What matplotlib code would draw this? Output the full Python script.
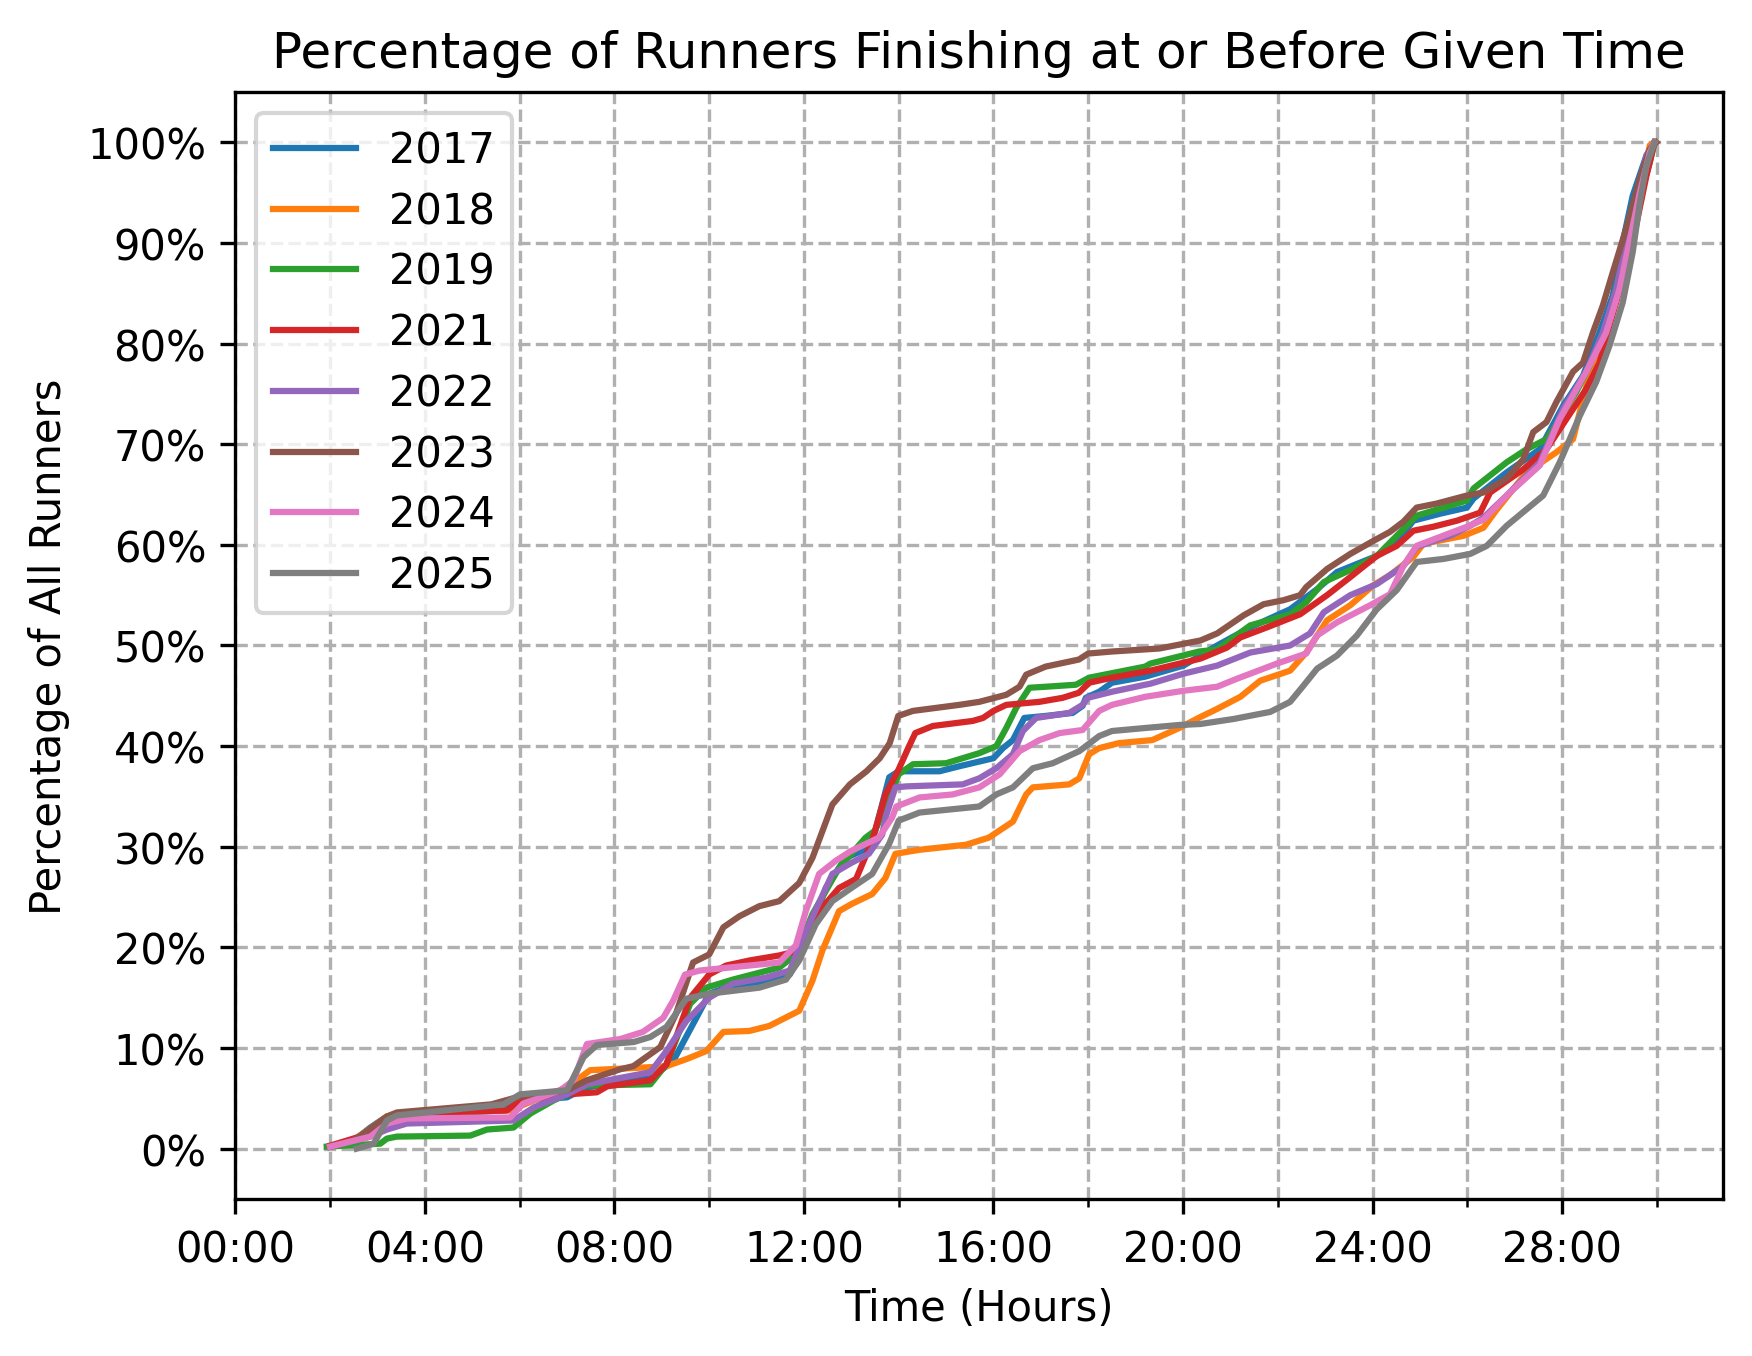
import matplotlib
matplotlib.use("Agg")
import matplotlib.pyplot as plt
from matplotlib.ticker import MultipleLocator, FuncFormatter

years = ["2017", "2018", "2019", "2021", "2022", "2023", "2024", "2025"]

t2017 = [2.0, 2.5, 2.85, 3.2, 5.66, 6.01, 7.0, 7.42, 8.76, 9.24, 9.73, 10.0, 10.36, 11.2, 11.7, 12.04, 12.46, 12.88, 13.23, 13.5, 13.8, 14.0, 14.86, 15.28, 16.0, 16.2, 16.41, 16.65, 17.1, 17.67, 17.88, 17.95, 18.23, 18.5, 19.2, 20.01, 20.72, 21.42, 22.26, 22.83, 23.25, 23.67, 24.09, 24.51, 24.86, 25.43, 25.99, 26.13, 26.83, 27.53, 28.02, 28.44, 28.79, 29.07, 29.28, 29.49, 29.78, 29.95]
p2017 = [0.2, 0.8, 2.1, 3.2, 3.8, 4.8, 5.1, 6.1, 7.0, 8.7, 13.0, 15.4, 16.0, 16.5, 17.3, 20.3, 25.9, 28.9, 29.6, 31.5, 36.9, 37.5, 37.5, 38.0, 38.8, 39.8, 40.6, 42.8, 43.0, 43.3, 44.0, 44.8, 45.4, 46.3, 46.9, 48.0, 50.0, 51.8, 53.6, 55.6, 57.3, 58.1, 58.9, 60.3, 62.4, 63.1, 63.7, 64.6, 67.2, 69.5, 73.8, 76.8, 81.1, 84.8, 90.1, 94.7, 98.7, 100.0]

t2018 = [2.0, 2.5, 2.85, 3.2, 3.41, 5.8, 6.15, 7.0, 7.49, 8.76, 9.1, 9.52, 9.94, 10.3, 10.85, 11.27, 11.9, 12.18, 12.39, 12.74, 13.0, 13.44, 13.72, 13.93, 14.44, 15.42, 15.9, 16.41, 16.69, 16.83, 17.6, 17.81, 18.02, 18.23, 18.65, 19.35, 19.92, 20.37, 20.72, 21.21, 21.63, 22.26, 22.6, 23.04, 23.53, 24.02, 24.37, 24.86, 25.07, 25.92, 26.34, 26.62, 27.25, 27.88, 28.23, 28.51, 28.86, 29.14, 29.42, 29.64, 29.85, 29.95]
p2018 = [0.2, 0.9, 2.0, 3.2, 3.5, 3.8, 4.5, 6.1, 7.8, 8.1, 8.2, 8.9, 9.7, 11.6, 11.7, 12.2, 13.7, 16.7, 19.7, 23.6, 24.3, 25.3, 26.9, 29.3, 29.7, 30.2, 30.9, 32.5, 35.2, 35.9, 36.2, 36.8, 39.2, 39.8, 40.3, 40.6, 41.8, 42.9, 43.7, 44.9, 46.5, 47.5, 49.3, 52.5, 54.0, 56.0, 57.0, 58.8, 60.1, 60.9, 61.7, 63.5, 67.2, 69.2, 70.5, 75.8, 79.8, 84.8, 89.7, 94.7, 99.7, 100.0]

t2019 = [1.93, 3.06, 3.2, 3.41, 4.96, 5.31, 5.87, 6.23, 6.72, 7.42, 7.77, 8.76, 9.1, 9.6, 9.94, 10.5, 11.48, 11.83, 12.18, 12.74, 13.3, 13.5, 13.8, 14.0, 14.3, 15.0, 15.7, 16.06, 16.27, 16.48, 16.76, 17.1, 17.74, 18.02, 19.2, 19.31, 20.34, 20.72, 21.42, 22.26, 22.6, 22.97, 23.53, 24.09, 24.51, 24.93, 25.5, 25.99, 26.13, 26.83, 27.25, 27.67, 27.95, 28.3, 28.58, 28.93, 29.21, 29.49, 29.71, 29.85, 29.95]
p2019 = [0.2, 0.5, 1.0, 1.2, 1.3, 1.9, 2.1, 3.5, 4.8, 6.3, 6.3, 6.4, 8.4, 14.4, 16.0, 16.8, 18.0, 19.3, 23.3, 27.9, 30.9, 31.6, 34.9, 37.2, 38.2, 38.3, 39.3, 40.0, 41.8, 43.8, 45.8, 45.9, 46.1, 46.8, 47.9, 48.2, 49.4, 49.6, 52.0, 53.1, 54.3, 56.3, 57.5, 58.9, 60.9, 62.9, 63.7, 64.4, 65.6, 68.2, 69.5, 70.5, 72.5, 75.2, 77.8, 81.8, 86.8, 92.4, 95.7, 98.0, 100.0]

t2021 = [2.0, 2.49, 2.85, 3.2, 3.62, 5.73, 6.01, 7.0, 7.63, 7.85, 8.76, 9.1, 9.6, 10.0, 10.36, 10.85, 11.48, 11.9, 12.32, 12.74, 13.1, 13.44, 13.72, 14.0, 14.2, 14.35, 14.51, 14.72, 15.56, 15.78, 16.0, 16.27, 16.97, 17.46, 17.8, 18.02, 18.5, 19.2, 19.31, 20.37, 20.93, 21.21, 21.77, 22.47, 23.04, 23.53, 24.09, 24.51, 24.86, 25.28, 25.78, 26.27, 26.48, 27.18, 27.67, 28.09, 28.51, 28.79, 29.0, 29.28, 29.56, 29.78, 29.95]
p2021 = [0.3, 1.0, 1.5, 2.9, 3.5, 3.8, 4.8, 5.4, 5.6, 6.2, 6.8, 8.4, 15.0, 17.3, 18.2, 18.7, 19.2, 19.7, 23.6, 25.9, 26.8, 30.6, 35.2, 37.7, 39.8, 41.3, 41.6, 42.0, 42.5, 42.8, 43.5, 44.1, 44.4, 44.8, 45.3, 46.3, 46.8, 47.4, 47.5, 48.7, 49.8, 50.8, 51.8, 53.1, 55.0, 56.8, 58.9, 59.9, 61.4, 61.8, 62.4, 63.2, 65.2, 67.5, 69.5, 72.5, 75.5, 78.1, 81.8, 86.4, 91.7, 96.7, 100.0]

t2022 = [2.0, 2.85, 3.2, 3.62, 5.87, 6.3, 7.0, 7.42, 8.76, 9.1, 9.52, 10.0, 10.5, 11.2, 11.7, 12.04, 12.6, 13.0, 13.37, 13.65, 13.74, 13.93, 14.16, 15.35, 15.7, 16.06, 16.41, 16.62, 16.9, 17.6, 17.88, 17.99, 18.5, 19.2, 19.31, 20.01, 20.72, 21.42, 22.26, 22.68, 22.97, 23.53, 24.09, 24.65, 24.93, 25.42, 25.64, 26.06, 26.34, 26.83, 27.53, 28.02, 28.51, 28.86, 29.14, 29.35, 29.56, 29.78, 29.95]
p2022 = [0.2, 1.2, 1.9, 2.5, 2.8, 4.1, 5.4, 6.4, 7.6, 9.7, 12.7, 15.0, 16.4, 17.0, 17.7, 21.6, 27.3, 28.4, 29.3, 31.2, 33.2, 35.9, 36.0, 36.2, 36.8, 37.8, 39.2, 41.5, 42.8, 43.3, 44.1, 44.8, 45.4, 46.1, 46.2, 47.2, 48.0, 49.3, 50.0, 51.2, 53.3, 55.0, 56.1, 57.9, 59.8, 60.6, 60.9, 61.9, 62.7, 64.9, 68.2, 73.5, 77.2, 81.1, 85.4, 90.1, 94.7, 98.7, 100.0]

t2023 = [2.0, 2.5, 2.85, 3.2, 3.41, 5.4, 6.01, 7.0, 7.42, 8.13, 8.4, 8.7, 8.97, 9.3, 9.66, 10.0, 10.3, 10.64, 11.06, 11.48, 11.9, 12.18, 12.6, 12.97, 13.32, 13.6, 13.81, 13.99, 14.3, 15.28, 15.7, 16.27, 16.55, 16.69, 17.1, 17.8, 18.0, 18.5, 19.5, 20.37, 20.72, 21.28, 21.7, 22.12, 22.47, 22.6, 23.04, 23.53, 24.02, 24.37, 24.65, 24.93, 25.35, 25.99, 26.34, 26.83, 27.18, 27.39, 27.67, 27.88, 28.23, 28.44, 28.65, 28.86, 29.07, 29.35, 29.64, 29.85, 29.99]
p2023 = [0.2, 0.8, 2.0, 3.2, 3.6, 4.4, 5.2, 5.8, 6.8, 7.9, 8.2, 9.2, 10.1, 13.4, 18.5, 19.3, 22.0, 23.1, 24.1, 24.6, 26.4, 28.9, 34.2, 36.2, 37.5, 38.8, 40.3, 43.0, 43.5, 44.1, 44.4, 45.1, 45.9, 47.1, 47.9, 48.6, 49.2, 49.4, 49.7, 50.5, 51.2, 53.0, 54.1, 54.5, 55.0, 55.8, 57.6, 59.1, 60.4, 61.3, 62.3, 63.7, 64.1, 64.9, 65.2, 66.6, 68.5, 71.2, 72.2, 74.2, 77.2, 78.1, 81.1, 83.8, 87.1, 91.4, 96.4, 99.3, 100.0]

t2024 = [2.0, 2.85, 3.2, 3.62, 5.8, 6.08, 6.37, 6.86, 7.14, 7.42, 8.13, 8.6, 9.03, 9.24, 9.49, 9.8, 10.85, 11.48, 11.83, 12.04, 12.32, 12.67, 13.0, 13.58, 13.86, 13.95, 14.44, 15.14, 15.7, 16.13, 16.55, 16.97, 17.4, 17.88, 18.23, 18.5, 19.2, 20.01, 20.72, 21.14, 21.98, 22.6, 22.83, 23.25, 23.95, 24.37, 24.65, 24.93, 25.43, 25.99, 26.34, 26.83, 27.53, 27.95, 28.51, 28.93, 29.21, 29.42, 29.64, 29.85, 29.95]
p2024 = [0.2, 1.2, 2.5, 3.0, 3.1, 4.5, 4.95, 5.8, 6.8, 10.4, 10.9, 11.6, 13.0, 14.7, 17.3, 17.7, 18.2, 18.5, 20.2, 23.6, 27.3, 28.6, 29.6, 30.9, 32.9, 34.0, 34.9, 35.2, 35.9, 37.2, 39.5, 40.6, 41.3, 41.6, 43.5, 44.1, 44.9, 45.5, 45.9, 46.7, 48.2, 49.2, 51.0, 52.3, 54.0, 55.1, 57.9, 59.9, 60.8, 61.8, 62.5, 64.9, 67.9, 72.5, 77.2, 81.1, 85.4, 90.1, 95.0, 99.0, 100.0]

t2025 = [2.56, 2.92, 3.2, 3.41, 5.66, 6.01, 7.0, 7.35, 7.63, 8.41, 8.76, 9.1, 9.52, 10.0, 11.06, 11.62, 11.9, 12.25, 12.6, 13.0, 13.44, 13.8, 14.0, 14.44, 15.7, 16.06, 16.41, 16.83, 17.25, 17.81, 18.23, 18.5, 19.2, 19.92, 20.37, 21.07, 21.84, 22.26, 22.54, 22.83, 23.25, 23.67, 24.09, 24.51, 24.93, 25.5, 26.06, 26.41, 26.83, 27.6, 27.95, 28.37, 28.72, 29.0, 29.28, 29.49, 29.64, 29.78, 29.95]
p2025 = [0.0, 0.5, 2.8, 3.3, 4.4, 5.4, 5.8, 9.1, 10.3, 10.6, 11.1, 12.1, 14.9, 15.4, 16.0, 16.8, 18.7, 22.3, 24.6, 25.9, 27.3, 30.3, 32.6, 33.4, 34.0, 35.2, 35.9, 37.8, 38.3, 39.5, 41.0, 41.5, 41.8, 42.1, 42.2, 42.7, 43.4, 44.4, 46.0, 47.7, 49.0, 51.0, 53.6, 55.5, 58.3, 58.6, 59.1, 59.9, 61.9, 64.9, 68.2, 72.8, 76.2, 79.8, 84.1, 89.1, 94.0, 97.7, 100.0]

series_t = [t2017, t2018, t2019, t2021, t2022, t2023, t2024, t2025]
series_p = [p2017, p2018, p2019, p2021, p2022, p2023, p2024, p2025]

fig = plt.figure(figsize=(5.84, 4.5233), dpi=300)
ax = fig.add_axes([0.1343, 0.1157, 0.9834 - 0.1343, 0.9315 - 0.1157])

for yr, t, p in zip(years, series_t, series_p):
    ax.plot(t, p, label=yr)

ax.set_xlim(left=0)
ax.set_ylim(-5, 105)
ax.xaxis.set_major_locator(MultipleLocator(4))
ax.xaxis.set_minor_locator(MultipleLocator(2))
ax.xaxis.set_major_formatter(FuncFormatter(lambda v, pos: f"{int(round(v)):02d}:00"))
ax.yaxis.set_major_locator(MultipleLocator(10))
ax.yaxis.set_major_formatter(FuncFormatter(lambda v, pos: f"{int(round(v))}%"))

ax.grid(True, which="major", linestyle="--")
ax.grid(True, which="minor", axis="x", linestyle="--")

ax.set_title("Percentage of Runners Finishing at or Before Given Time")
ax.set_xlabel("Time (Hours)")
ax.set_ylabel("Percentage of All Runners")
ax.legend(loc="upper left", labelspacing=0.45)

fig.savefig("out.png", dpi=300)
